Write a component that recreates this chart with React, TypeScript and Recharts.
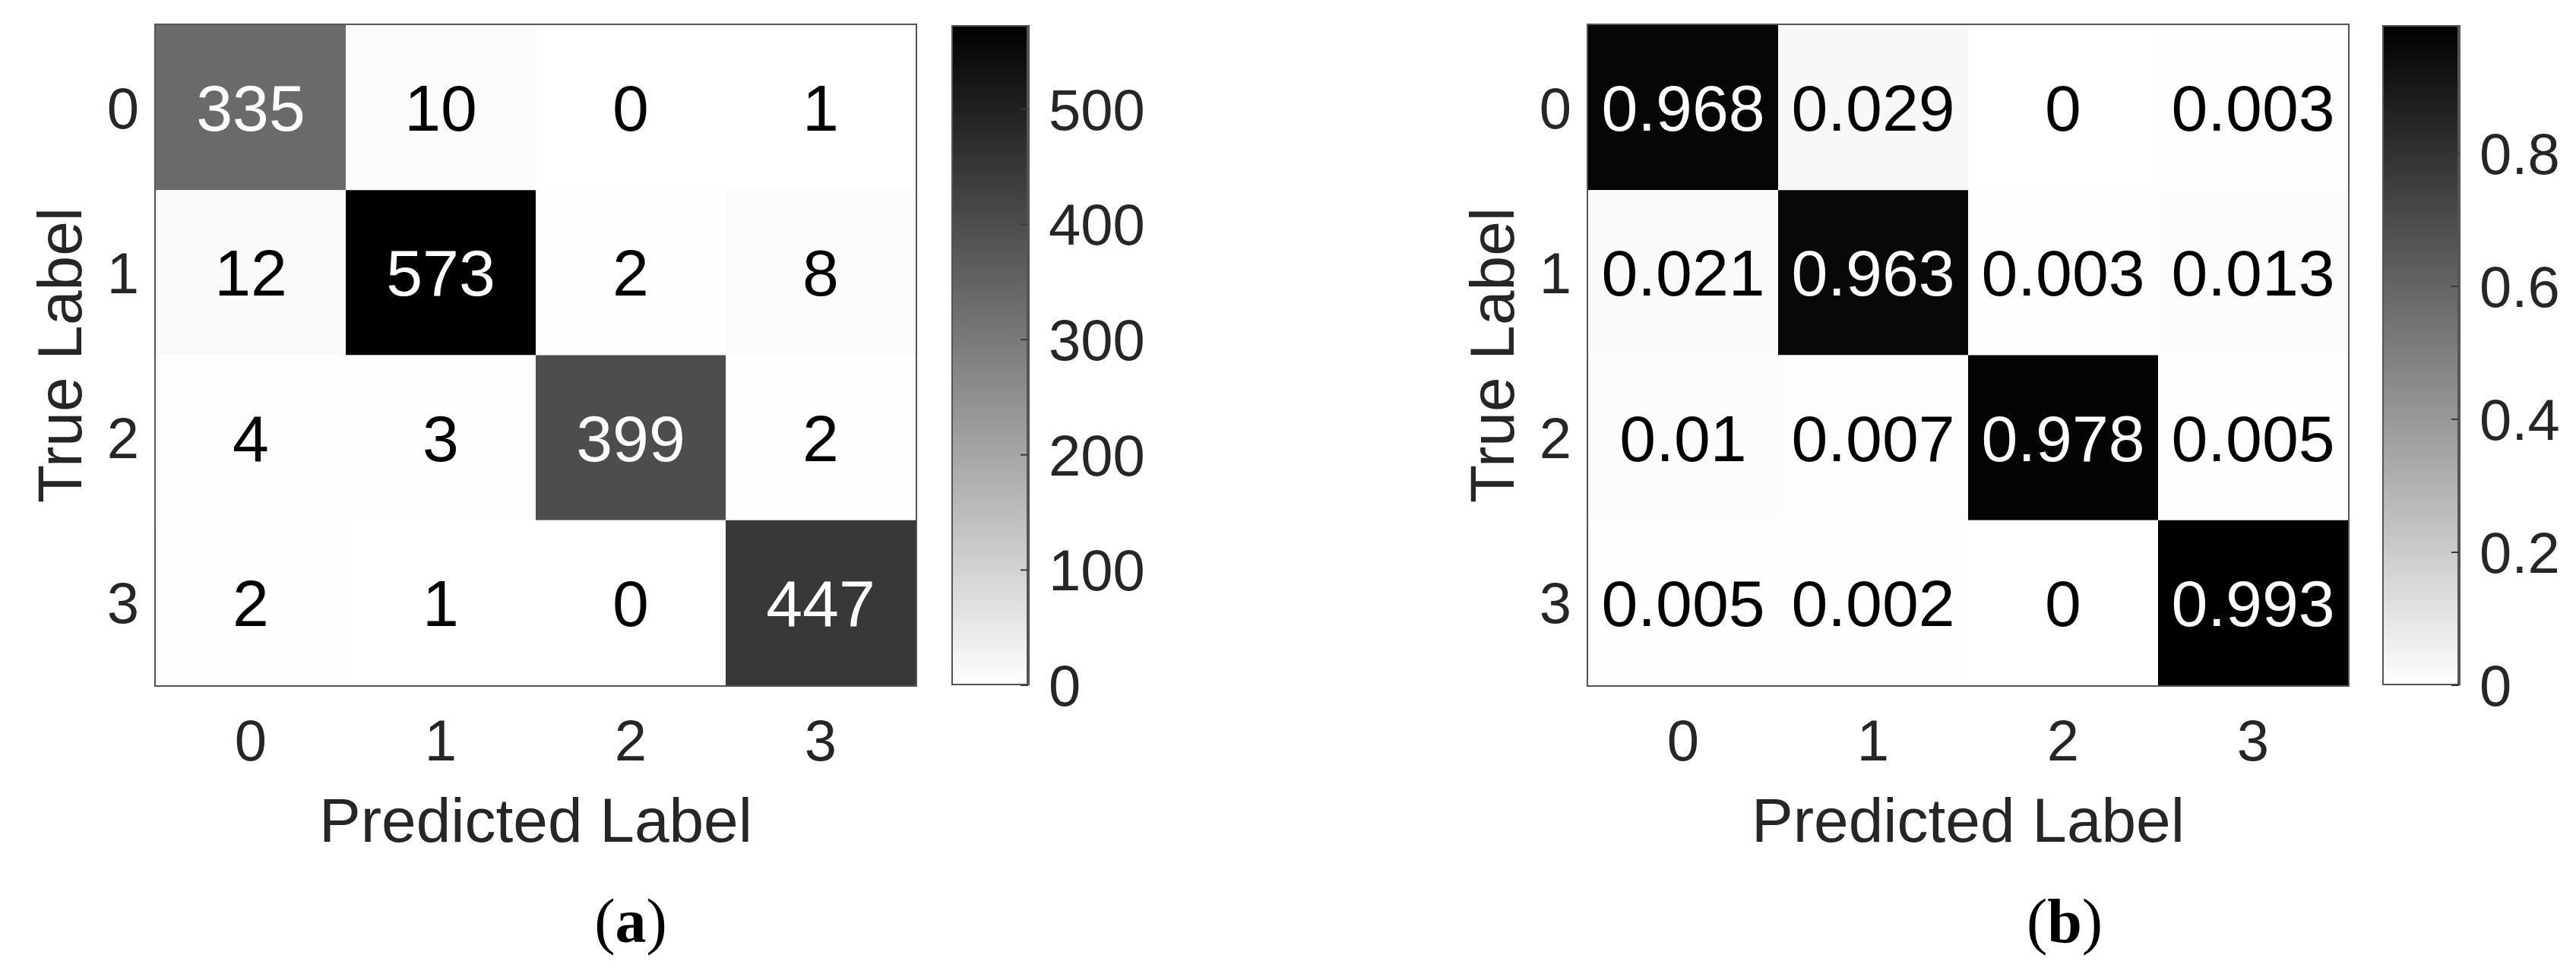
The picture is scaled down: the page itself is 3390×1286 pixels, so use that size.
import React from 'react';
import { ScatterChart, Scatter, BarChart, Bar, XAxis, YAxis, ReferenceArea } from 'recharts';

const FONT = '"Liberation Sans", Arial, Helvetica, sans-serif';
const SERIF = '"Liberation Serif", "Times New Roman", serif';
const TEXT = '#262626';
const EDGE = '#555555';

const classLabels = ['0', '1', '2', '3'];

// (a) confusion matrix, counts
const countMatrix = [
  [335, 10, 0, 1],
  [12, 573, 2, 8],
  [4, 3, 399, 2],
  [2, 1, 0, 447],
];
const countTicks = [0, 100, 200, 300, 400, 500];

// (b) confusion matrix, normalised per true label
const rateMatrix = [
  [0.968, 0.029, 0, 0.003],
  [0.021, 0.963, 0.003, 0.013],
  [0.01, 0.007, 0.978, 0.005],
  [0.005, 0.002, 0, 0.993],
];
const rateTicks = [0, 0.2, 0.4, 0.6, 0.8];

// layout
const MAT_W = 1260;
const MAT_H = 1140;
const Y_AXIS_W = 205;
const X_AXIS_H = 200;
const PLOT_W = 1000;
const PLOT_TOP = 33;
const PLOT_BOTTOM = 902;
const PLOT_H = PLOT_BOTTOM - PLOT_TOP;
const CELL_W = PLOT_W / classLabels.length;
const CELL_H = PLOT_H / classLabels.length;
const CB_W = 101;
const CB_AXIS_W = 200;

const toCells = (m: number[][]) =>
  m.flatMap((row, r) => row.map((value, c) => ({ col: c, row: r, value })));

const gray = (t: number) => {
  const g = Math.round(255 * (1 - Math.max(0, Math.min(1, t))));
  return `rgb(${g},${g},${g})`;
};

const makeCellShape = (max: number) => (props: any) => {
  const { cx, cy, payload } = props;
  const t = payload.value / max;
  return (
    <g>
      <rect x={cx - CELL_W / 2} y={cy - CELL_H / 2} width={CELL_W} height={CELL_H} fill={gray(t)} />
      <text
        x={cx}
        y={cy}
        dy="0.355em"
        textAnchor="middle"
        fontSize={86}
        fontFamily={FONT}
        fill={t > 0.5 ? '#ffffff' : '#000000'}
      >
        {String(payload.value)}
      </text>
    </g>
  );
};

const TrueLabel = (props: any) => {
  const vb = props.viewBox || { x: 0, y: PLOT_TOP, width: Y_AXIS_W, height: PLOT_H };
  const x = vb.x + 107;
  const y = vb.y + vb.height / 2;
  return (
    <text x={x} y={y} transform={`rotate(-90 ${x} ${y})`} textAnchor="middle" fontSize={82} fontFamily={FONT} fill={TEXT}>
      True Label
    </text>
  );
};

interface PanelProps {
  id: string;
  matrix: number[][];
  ticks: number[];
  left: number;
  colorbarLeft: number;
  captionX: number;
  caption: string;
}

const Panel: React.FC<PanelProps> = ({ id, matrix, ticks, left, colorbarLeft, captionX, caption }) => {
  const max = Math.max(...matrix.flat());
  const cells = toCells(matrix);
  const scaleData = [{ name: 'scale', top: max }];
  const tickStyle = { fontSize: 76, fill: TEXT, fontFamily: FONT };
  const idx = classLabels.map((_, i) => i);

  return (
    <>
      <div style={{ position: 'absolute', left, top: 0 }}>
        <ScatterChart
          width={MAT_W}
          height={MAT_H}
          margin={{ top: PLOT_TOP, right: MAT_W - Y_AXIS_W - PLOT_W, bottom: MAT_H - PLOT_BOTTOM - X_AXIS_H, left: 0 }}
        >
          <XAxis
            type="number"
            dataKey="col"
            domain={[-0.5, classLabels.length - 0.5]}
            ticks={idx}
            interval={0}
            tickFormatter={(v) => classLabels[v]}
            height={X_AXIS_H}
            axisLine={false}
            tickLine={false}
            tickSize={0}
            tickMargin={45}
            tick={tickStyle}
            label={{ value: 'Predicted Label', position: 'insideTop', offset: 148, fontSize: 82, fill: TEXT, fontFamily: FONT }}
          />
          <YAxis
            type="number"
            dataKey="row"
            domain={[-0.5, classLabels.length - 0.5]}
            reversed
            ticks={idx}
            interval={0}
            tickFormatter={(v) => classLabels[v]}
            width={Y_AXIS_W}
            axisLine={false}
            tickLine={false}
            tickSize={0}
            tickMargin={22}
            tick={tickStyle}
            label={{ content: TrueLabel }}
          />
          <Scatter data={cells} shape={makeCellShape(max)} isAnimationActive={false} />
          <ReferenceArea
            x1={-0.5}
            x2={classLabels.length - 0.5}
            y1={-0.5}
            y2={classLabels.length - 0.5}
            fill="none"
            fillOpacity={0}
            stroke={EDGE}
            strokeWidth={4}
            ifOverflow="visible"
          />
        </ScatterChart>
      </div>

      <div style={{ position: 'absolute', left: colorbarLeft, top: 0 }}>
        <BarChart
          width={CB_W + CB_AXIS_W}
          height={MAT_H}
          data={scaleData}
          barCategoryGap={0}
          barGap={0}
          margin={{ top: PLOT_TOP, right: 0, bottom: MAT_H - PLOT_BOTTOM, left: 0 }}
        >
          <defs>
            <linearGradient id={`cb-${id}`} x1="0" y1="1" x2="0" y2="0">
              <stop offset="0%" stopColor={gray(0)} />
              <stop offset="100%" stopColor={gray(1)} />
            </linearGradient>
          </defs>
          <Bar
            dataKey="top"
            fill={`url(#cb-${id})`}
            stroke={EDGE}
            strokeWidth={4}
            isAnimationActive={false}
          />
          <XAxis dataKey="name" hide height={0} />
          <YAxis
            type="number"
            orientation="right"
            domain={[0, max]}
            ticks={ticks}
            interval={0}
            width={CB_AXIS_W}
            axisLine={false}
            tickLine={{ stroke: '#3a3a3a', strokeWidth: 2 }}
            tickSize={-10}
            tickMargin={37}
            tick={{ ...tickStyle, textAnchor: 'start' }}
            allowDataOverflow
          />
        </BarChart>
      </div>

      <svg style={{ position: 'absolute', left: 0, top: 0 }} width={3390} height={1286} pointerEvents="none">
        <text x={captionX} y={1240} textAnchor="middle" fontSize={82} fontFamily={SERIF} fill="#000">
          (<tspan fontWeight="bold">{caption}</tspan>)
        </text>
      </svg>
    </>
  );
};

export default function App() {
  return (
    <div style={{ position: 'absolute', left: 0, top: 0, width: 3390, height: 1286, background: '#fff', fontFamily: FONT }}>
      <Panel id="a" matrix={countMatrix} ticks={countTicks} left={0} colorbarLeft={1252} captionX={830} caption="a" />
      <Panel id="b" matrix={rateMatrix} ticks={rateTicks} left={1885} colorbarLeft={3135} captionX={2717} caption="b" />
    </div>
  );
}
